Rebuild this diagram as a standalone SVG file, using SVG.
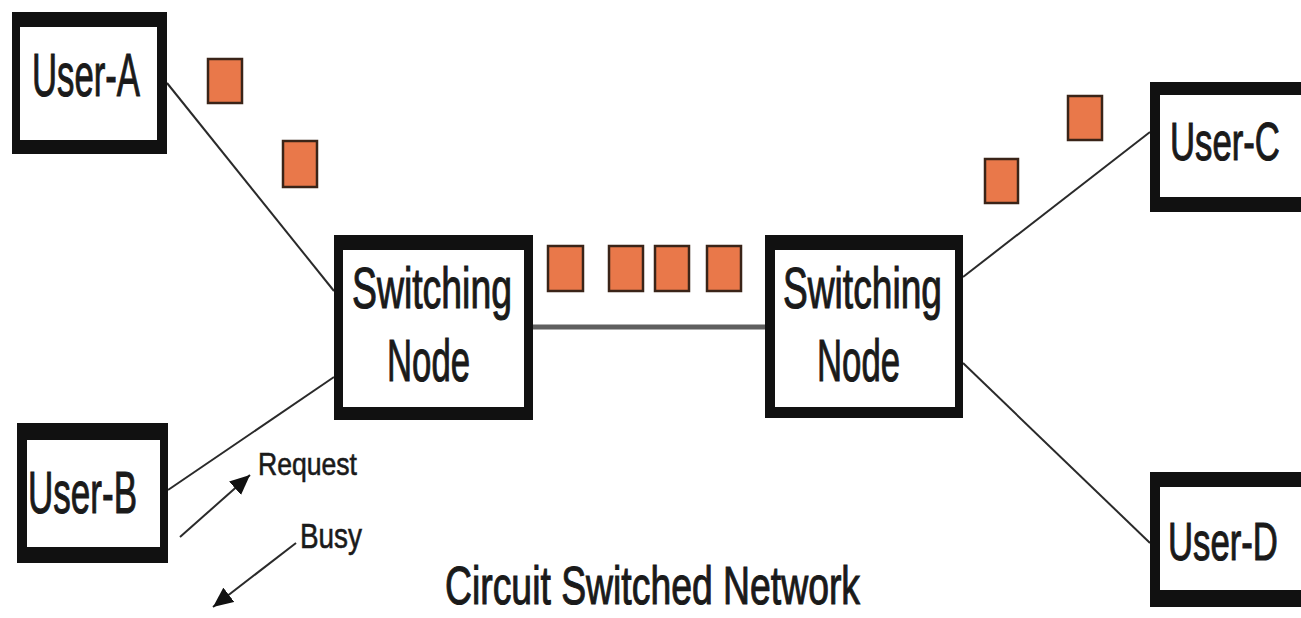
<svg xmlns="http://www.w3.org/2000/svg" width="1301" height="618" viewBox="0 0 1301 618">
<style>
.outer{fill:#111}
.inner{fill:#fff}
.lbl{font-family:"Liberation Sans",Arial,sans-serif;fill:#1a1a1a;stroke:#1a1a1a;stroke-width:1.1}
.sm{stroke-width:0.6}
.pkt{fill:#E9784A;stroke:#3a2418;stroke-width:2.5}
.wire{stroke:#2a2a2a;stroke-width:2;fill:none}
.trunk{stroke:#5f5f5f;stroke-width:5;fill:none}
</style>
<defs>
<marker id="ah" markerUnits="userSpaceOnUse" markerWidth="22" markerHeight="18" refX="20" refY="9" orient="auto">
<path d="M0,0 L20,9 L0,18 Z" fill="#111"/>
</marker>
</defs>
<rect width="1301" height="618" fill="#fff"/>
<g id="connectors">
<line class="wire" x1="167" y1="83" x2="334" y2="291"/>
<line class="wire" x1="168" y1="490" x2="334" y2="377"/>
<line class="wire" x1="963" y1="277" x2="1150" y2="132"/>
<line class="wire" x1="963" y1="363" x2="1150" y2="543"/>
<line class="trunk" x1="533" y1="327" x2="765" y2="327"/>
<line class="wire" x1="180" y1="537" x2="250" y2="475" marker-end="url(#ah)"/>
<line class="wire" x1="296" y1="543" x2="213" y2="607" marker-end="url(#ah)"/>
</g>
<g id="packets">
<rect class="pkt" x="208" y="59" width="34" height="44"/>
<rect class="pkt" x="283" y="141" width="34" height="46"/>
<rect class="pkt" x="548" y="246" width="35" height="45"/>
<rect class="pkt" x="609" y="246" width="34" height="45"/>
<rect class="pkt" x="655" y="246" width="34" height="45"/>
<rect class="pkt" x="707" y="246" width="34" height="45"/>
<rect class="pkt" x="1068" y="96" width="34" height="44"/>
<rect class="pkt" x="985" y="159" width="33" height="44"/>
</g>
<g id="user-a">
<rect class="outer" x="12" y="12" width="155" height="142"/>
<rect class="inner" x="20" y="27" width="137" height="113"/>
<text class="lbl" transform="translate(32,96) scale(0.56,1)" font-size="62">User-A</text>
</g>
<g id="user-b">
<rect class="outer" x="17" y="423" width="151" height="140"/>
<rect class="inner" x="27" y="440" width="133" height="107"/>
<text class="lbl" transform="translate(28,513) scale(0.584,1)" font-size="60">User-B</text>
</g>
<g id="switch-left">
<rect class="outer" x="334" y="235" width="199" height="185"/>
<rect class="inner" x="343" y="250" width="181" height="157"/>
<text class="lbl" x="352" y="308" font-size="57" textLength="160" lengthAdjust="spacingAndGlyphs">Switching</text>
<text class="lbl" x="387" y="381" font-size="60" textLength="83" lengthAdjust="spacingAndGlyphs">Node</text>
</g>
<g id="switch-right">
<rect class="outer" x="765" y="235" width="198" height="183"/>
<rect class="inner" x="775" y="250" width="180" height="157"/>
<text class="lbl" x="783" y="308" font-size="57" textLength="159" lengthAdjust="spacingAndGlyphs">Switching</text>
<text class="lbl" x="817" y="381" font-size="60" textLength="83" lengthAdjust="spacingAndGlyphs">Node</text>
</g>
<g id="user-c">
<rect class="outer" x="1150" y="82" width="160" height="130"/>
<rect class="inner" x="1160" y="95" width="150" height="102"/>
<text class="lbl" transform="translate(1170,160) scale(0.643,1)" font-size="54">User-C</text>
</g>
<g id="user-d">
<rect class="outer" x="1150" y="472" width="160" height="135"/>
<rect class="inner" x="1160" y="487" width="150" height="103"/>
<text class="lbl" transform="translate(1168,560) scale(0.643,1)" font-size="54">User-D</text>
</g>
<g id="labels">
<text class="lbl sm" x="258" y="475" font-size="32" textLength="99" lengthAdjust="spacingAndGlyphs">Request</text>
<text class="lbl sm" x="300" y="548" font-size="35" textLength="62" lengthAdjust="spacingAndGlyphs">Busy</text>
<text class="lbl" x="445" y="604" font-size="54" textLength="415" lengthAdjust="spacingAndGlyphs">Circuit Switched Network</text>
</g>
</svg>
